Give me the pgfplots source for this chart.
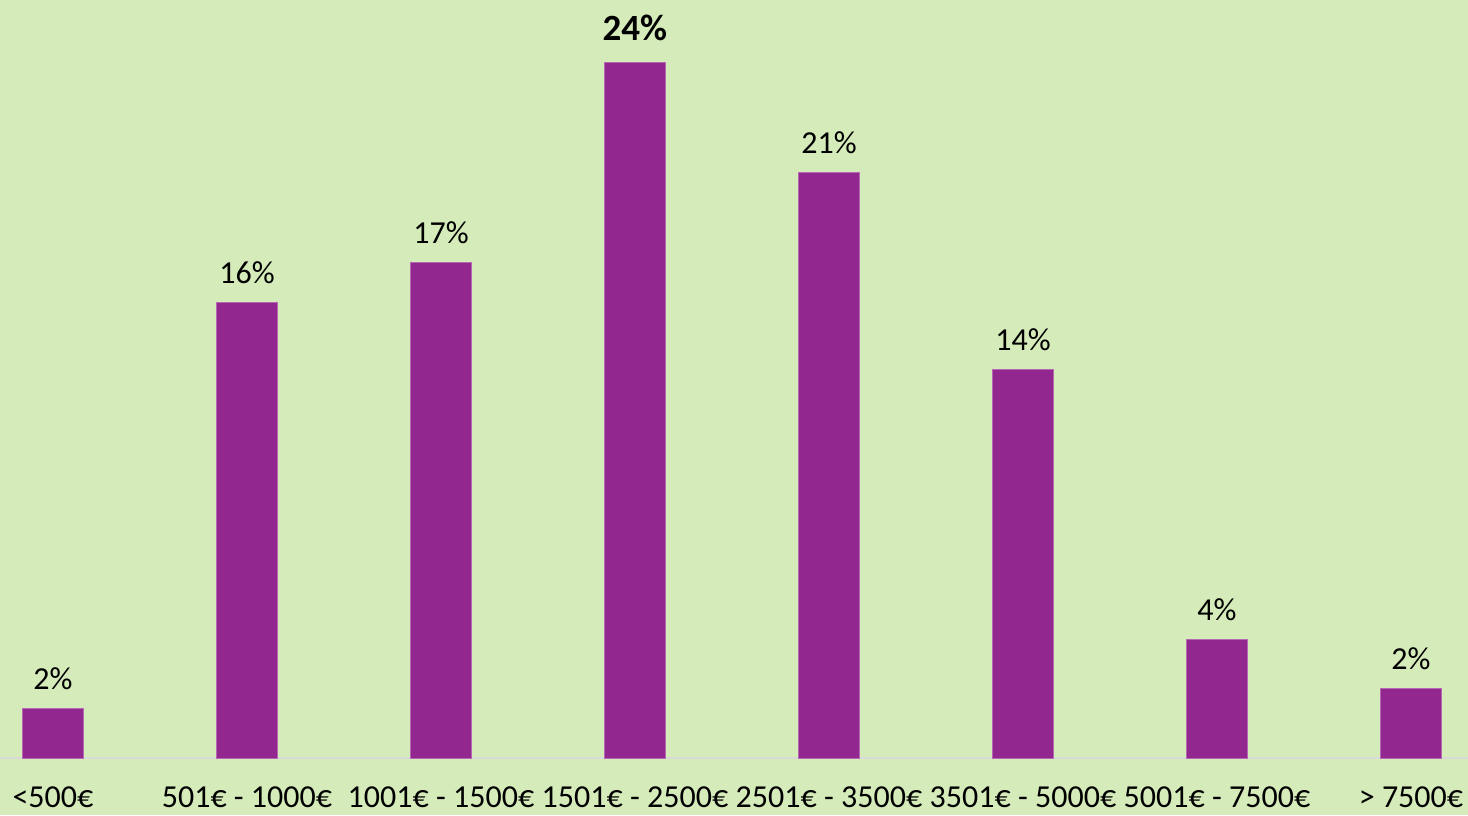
\documentclass[border=0pt]{standalone}
\usepackage{pgfplots}
\pgfplotsset{compat=1.18}
\usepackage{fontspec}
\setmainfont{Carlito}
\usetikzlibrary{backgrounds}

\definecolor{bgc}{HTML}{D5EBBA}
\definecolor{barc}{HTML}{92278F}
\definecolor{axc}{HTML}{D9D9D9}

\begin{document}
\begin{tikzpicture}[font=\fontsize{16}{19}\selectfont]
\begin{axis}[
    scale only axis,
    width=734pt, height=379pt,
    xmin=-0.273, xmax=7.294,
    ymin=0, ymax=26.14,
    axis y line=none,
    axis x line*=bottom,
    x axis line style={axc, line width=1.2pt, -},
    xtick=data,
    xticklabels={{<500€},{501€ - 1000€},{1001€ - 1500€},{1501€ - 2500€},{2501€ - 3500€},{3501€ - 5000€},{5001€ - 7500€},{> 7500€}},
    major tick length=0pt,
    xticklabel style={anchor=base, yshift=-24.5pt, inner sep=0pt},
    ybar, bar width=30.5pt,
    point meta=explicit symbolic,
    nodes near coords,
    every node near coord/.append style={anchor=base, yshift=9.5pt, inner sep=0pt, text=black},
    clip=false,
]
\addplot[fill=barc, draw=barc!70!white, line width=0.4pt] table[meta=lab] {
x y lab
0 1.7 {2\%}
1 15.7 {16\%}
2 17.1 {17\%}
3 24.0 {\raisebox{1.5pt}{\textbf{\fontsize{18.5}{22}\selectfont 24\%}}}
4 20.2 {21\%}
5 13.4 {14\%}
6 4.1 {4\%}
7 2.4 {2\%}
};
\coordinate (ll) at (rel axis cs:0,0);
\coordinate (ur) at (rel axis cs:1,1);
\end{axis}
\begin{scope}[on background layer]
\fill[bgc] ([yshift=-28.5pt]ll) rectangle (ur);
\end{scope}
\pgfresetboundingbox
\useasboundingbox ([yshift=-28.5pt]ll) rectangle (ur);
\end{tikzpicture}
\end{document}
